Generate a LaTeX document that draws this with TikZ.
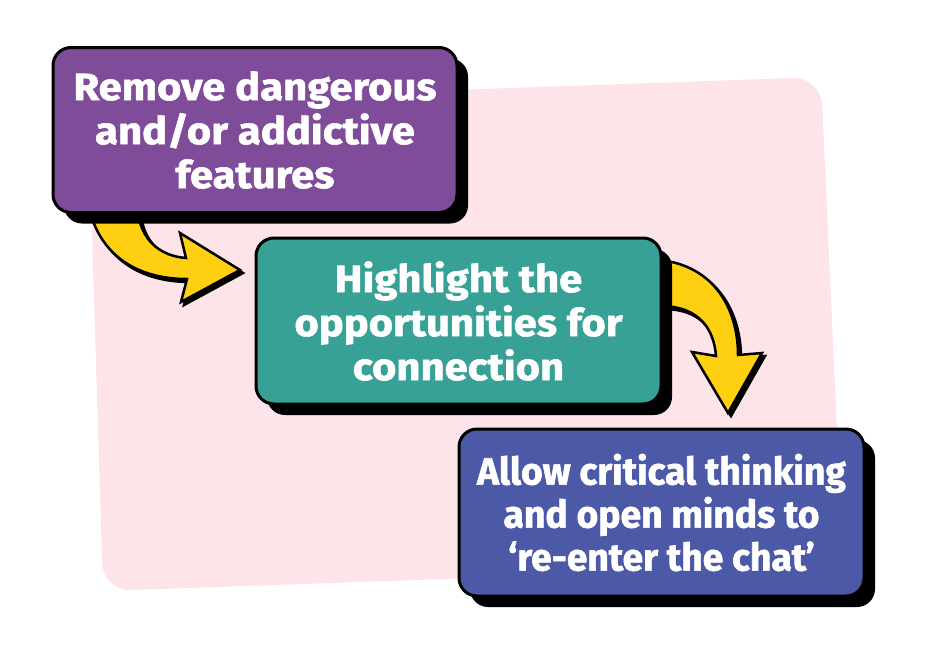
\documentclass[tikz,border=0pt]{standalone}
\usepackage{fontspec}
\setmainfont{Fira Sans}
\newfontfamily\heavyfont{Fira Sans}[BoldFeatures={FakeBold=1.6,FakeStretch=1.1}]
\newfontfamily\heavynarrow{Fira Sans}[BoldFeatures={FakeBold=1.6,FakeStretch=0.98}]
\usetikzlibrary{shadows}
\definecolor{pinkbg}{HTML}{FCE4E8}
\definecolor{boxpurple}{HTML}{7F4C99}
\definecolor{boxteal}{HTML}{37A195}
\definecolor{boxblue}{HTML}{4B59A6}
\definecolor{arrowyellow}{HTML}{FFD012}
\tikzset{
  stepbox/.style={rectangle, rounded corners=18pt, draw=black, line width=3pt,
    minimum width=404pt, minimum height=165pt, text=white, align=center,
    font=\heavyfont\bfseries\fontsize{38}{44}\selectfont,
    drop shadow={shadow xshift=11pt, shadow yshift=-11pt, fill=black, opacity=1}},
  bigarrow/.style={fill=arrowyellow, draw=black, line width=2.5pt, line join=miter,
    preaction={fill=black, draw=black, line width=2.5pt, transform canvas={shift={(3pt,-3pt)}}}}
}
\begin{document}
\begin{tikzpicture}[x=1pt,y=-1pt]
\useasboundingbox (0,0) rectangle (927,670);
% pink background
\fill[pinkbg, rounded corners=28pt] (88,103) -- (821,77) -- (843,565) -- (103,591) -- cycle;
% arrows (drawn first so that the boxes cover their tails)
\coordinate (a1s) at (90,212);
\coordinate (a2s) at (660,260);
\path[bigarrow] (a1s) .. controls (104,262) and (145,279) .. (187,279) -- (181,302) -- (240,270) -- (180,233) -- (186,258) .. controls (160,256) and (141,240) .. (138,212) -- cycle;
\path[bigarrow] (a2s) .. controls (715,266) and (738,310) .. (738,355) -- (762,353) -- (728,413) -- (692,352) -- (716,356) .. controls (714,330) and (700,306) .. (660,306) -- cycle;
% boxes
\node[stepbox, fill=boxpurple] (box1) at (255,130) {Remove dangerous\\and/or addictive\\features};
\node[stepbox, fill=boxteal, minimum width=405pt, minimum height=166pt] (box2) at (458.5,321) {Highlight the\\opportunities for\\connection};
\node[stepbox, fill=boxblue, minimum width=405pt, minimum height=167pt,
  font=\heavynarrow\bfseries\fontsize{38}{43}\selectfont] (box3) at (661.5,512.5) {Allow critical thinking\\and open minds to\\‘re-enter the chat’};
\end{tikzpicture}
\end{document}
